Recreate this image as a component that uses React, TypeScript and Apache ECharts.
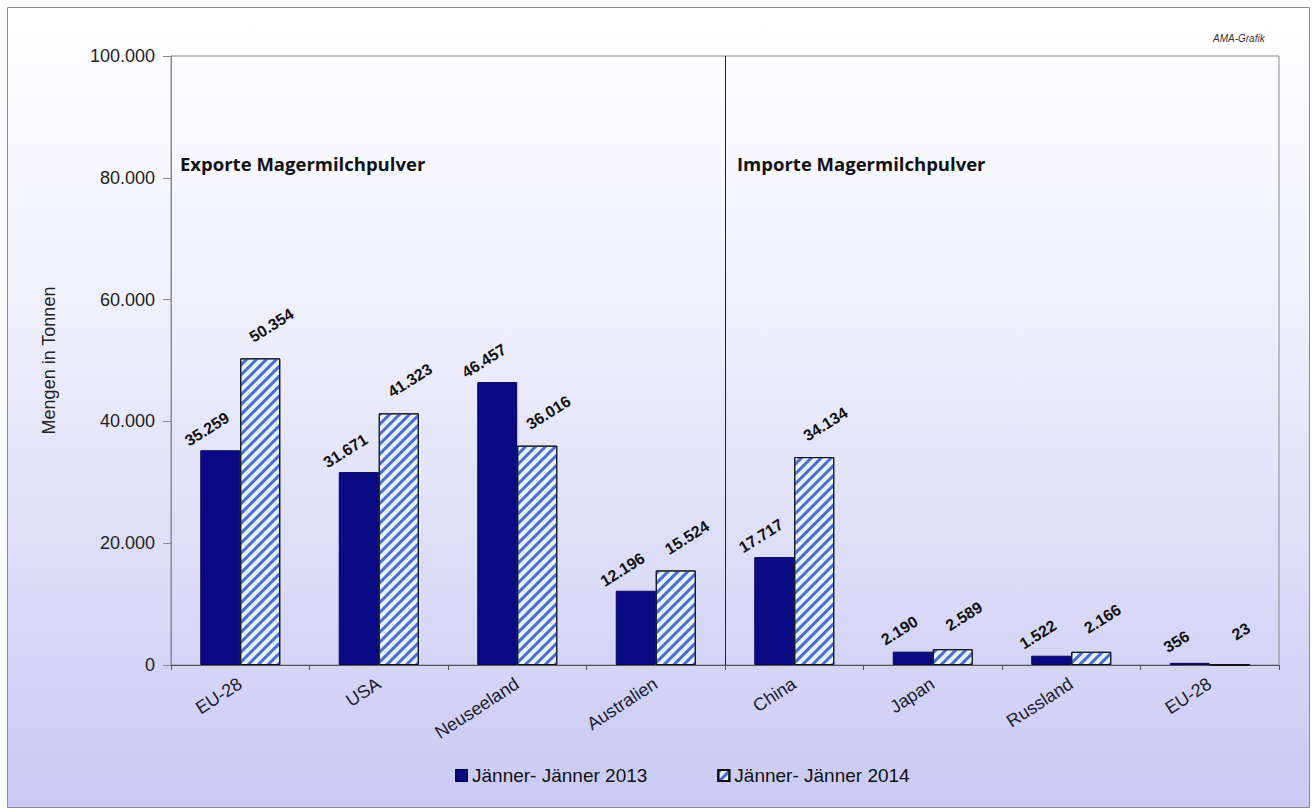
import React, { useEffect, useRef } from "react";
import * as echarts from "echarts";

const categories = ["EU-28", "USA", "Neuseeland", "Australien", "China", "Japan", "Russland", "EU-28"];
const jan2013 = [35259, 31671, 46457, 12196, 17717, 2190, 1522, 356];
const jan2014 = [50354, 41323, 36016, 15524, 34134, 2589, 2166, 23];
const seriesNames = ["Jänner- Jänner 2013", "Jänner- Jänner 2014"];
const yTicks = [0, 20000, 40000, 60000, 80000, 100000];

const fmt = (v: number) => String(Math.round(v)).replace(/\B(?=(\d{3})+(?!\d))/g, ".");
const FONT = "'Liberation Sans', Arial, sans-serif";

export default function App() {
  const ref = useRef<HTMLDivElement>(null);
  useEffect(() => {
    if (!ref.current) return;
    const chart = echarts.init(ref.current, undefined, { renderer: "svg" });
    const labelBase = {
      show: true,
      position: "top",
      distance: 0,
      rotate: 32,
      align: "center",
      verticalAlign: "middle",
      fontSize: 16,
      fontWeight: "bold",
      color: "#111",
      fontFamily: FONT,
      formatter: (p: any) => fmt(p.value),
    };
    const option: any = {
      animation: false,
      backgroundColor: "#ffffff",
      textStyle: { fontFamily: FONT },
      grid: {
        left: 171,
        right: 36,
        top: 56,
        bottom: 144,
        show: true,
        borderColor: "#8a8a8a",
        borderWidth: 1,
        backgroundColor: "transparent",
      },
      legend: {
        left: 450,
        top: 761,
        itemWidth: 11,
        itemHeight: 11,
        itemGap: 70,
        icon: "rect",
        textStyle: { fontSize: 19, color: "#111", fontFamily: FONT },
        data: seriesNames,
      },
      xAxis: {
        type: "category",
        data: categories,
        axisLine: { lineStyle: { color: "#555", width: 1 } },
        axisTick: { show: true, alignWithLabel: false, length: 5, lineStyle: { color: "#555" } },
        axisLabel: { rotate: 33, fontSize: 18, color: "#1c1c30", margin: 17, interval: 0, fontFamily: FONT },
      },
      yAxis: {
        type: "value",
        min: yTicks[0],
        max: yTicks[yTicks.length - 1],
        interval: 20000,
        name: "Mengen in Tonnen",
        nameLocation: "middle",
        nameGap: 113,
        nameTextStyle: { fontSize: 18, color: "#222", fontFamily: FONT },
        axisLine: { show: true, lineStyle: { color: "#8a8a8a" } },
        axisTick: { show: true, length: 8, lineStyle: { color: "#8a8a8a" } },
        splitLine: { show: false },
        axisLabel: { fontSize: 18, color: "#222", margin: 16, formatter: (v: number) => fmt(v), fontFamily: FONT },
      },
      series: [
        {
          name: seriesNames[0],
          type: "bar",
          data: jan2013,
          barWidth: 40,
          barGap: "0%",
          itemStyle: { color: "#0a0a85", borderColor: "#06065a", borderWidth: 1 },
          label: { ...labelBase, offset: [0, -25] },
        },
        {
          name: seriesNames[1],
          type: "bar",
          data: jan2014,
          barWidth: 40,
          itemStyle: {
            color: "#e6f4f2",
            borderColor: "#111",
            borderWidth: 1,
            decal: {
              symbol: "rect",
              symbolSize: 1,
              dashArrayX: [1, 0],
              dashArrayY: [3, 4],
              rotation: -Math.PI / 4,
              color: "#4a6cd4",
            },
          },
          label: { ...labelBase, offset: [27, -22] },
        },
      ],
    };
    chart.setOption(option);

    const p3 = chart.convertToPixel({ xAxisIndex: 0 }, 3) as number;
    const p4 = chart.convertToPixel({ xAxisIndex: 0 }, 4) as number;
    const yTop = chart.convertToPixel({ yAxisIndex: 0 }, yTicks[yTicks.length - 1]) as number;
    const yBot = chart.convertToPixel({ yAxisIndex: 0 }, 0) as number;
    const xDiv = Math.round((p3 + p4) / 2) + 0.5;

    chart.setOption({
      graphic: [
        {
          type: "rect",
          z: -10,
          silent: true,
          shape: { x: 7.5, y: 7.5, width: 1302, height: 800 },
          style: {
            fill: new echarts.graphic.LinearGradient(0, 0, 0, 1, [
              { offset: 0, color: "#ffffff" },
              { offset: 0.35, color: "#f1f1fc" },
              { offset: 1, color: "#c9caf4" },
            ]),
            stroke: "#8c8c8c",
            lineWidth: 1,
          },
        },
        {
          type: "line",
          z: 5,
          silent: true,
          shape: { x1: xDiv, y1: yTop, x2: xDiv, y2: yBot },
          style: { stroke: "#222", lineWidth: 1 },
        },
        {
          type: "text",
          left: 180,
          top: 154,
          style: { text: "Exporte Magermilchpulver", font: "bold 18.5px 'Open Sans', sans-serif", fill: "#111" },
        },
        {
          type: "text",
          left: 737,
          top: 154,
          style: { text: "Importe Magermilchpulver", font: "bold 18.5px 'Open Sans', sans-serif", fill: "#111" },
        },
        {
          type: "text",
          left: 1213,
          top: 33,
          style: { text: "AMA-Grafik", font: "italic 10px 'Liberation Sans', Arial, sans-serif", fill: "#333" },
        },
      ],
    });

    return () => chart.dispose();
  }, []);
  return <div ref={ref} style={{ position: "absolute", left: 0, top: 0, width: 1315, height: 809 }} />;
}
